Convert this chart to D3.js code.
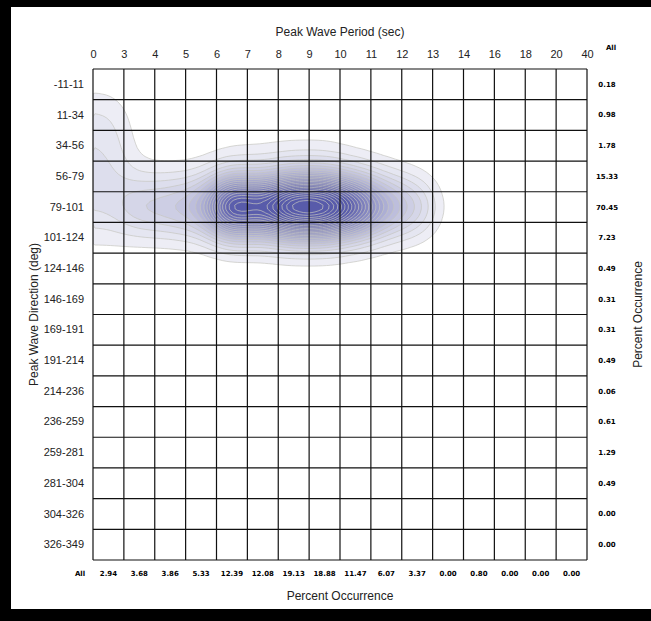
<!DOCTYPE html>
<html>
<head>
<meta charset="utf-8">
<script src="https://cdn.jsdelivr.net/npm/d3@7"></script>
<style>
  body { margin: 0; background: #fff; }
  svg { display: block; }
</style>
</head>
<body>
<div id="chart"></div>
<script>
// tick labels (column edges) and row bins
const periodTicks = ["0","3","4","5","6","7","8","9","10","11","12","13","14","16","18","20","40"];
const directionBins = ["-11-11","11-34","34-56","56-79","79-101","101-124","124-146","146-169",
  "169-191","191-214","214-236","236-259","259-281","281-304","304-326","326-349"];

// marginal totals (percent occurrence)
const periodTotals = [2.94, 3.68, 3.86, 5.33, 12.39, 12.08, 19.13, 18.88, 11.47, 6.07, 3.37, 0.00, 0.80, 0.00, 0.00, 0.00];
const directionTotals = [0.18, 0.98, 1.78, 15.33, 70.45, 7.23, 0.49, 0.31, 0.31, 0.49, 0.06, 0.61, 1.29, 0.49, 0.00, 0.00];

// joint occurrence per cell, estimated from the shading (rows below 101-124 too faint to show)
const occ_m11_11  = [0.10, 0.02, 0.01, 0.01, 0.01, 0.01, 0, 0, 0, 0, 0, 0, 0, 0, 0, 0];
const occ_11_34   = [0.80, 0.10, 0.05, 0.05, 0.05, 0.05, 0.05, 0.05, 0.04, 0.02, 0, 0, 0, 0, 0, 0];
const occ_34_56   = [1.00, 0.15, 0.10, 0.10, 0.15, 0.20, 0.20, 0.20, 0.10, 0.05, 0, 0, 0, 0, 0, 0];
const occ_56_79   = [1.20, 0.50, 0.40, 0.50, 1.30, 1.30, 1.90, 1.90, 1.20, 0.60, 0.30, 0, 0.10, 0, 0, 0];
const occ_79_101  = [1.20, 2.40, 2.80, 3.80, 11.00, 9.50, 13.60, 13.40, 9.00, 4.40, 2.40, 0, 0.50, 0, 0, 0];
const occ_101_124 = [0.40, 0.30, 0.30, 0.40, 1.00, 1.00, 1.40, 1.40, 0.90, 0.40, 0.20, 0, 0.10, 0, 0, 0];
const jointRows = [occ_m11_11, occ_11_34, occ_34_56, occ_56_79, occ_79_101, occ_101_124];

const W = 651, H = 621;
const grid = {left: 93, right: 587, top: 69, bottom: 560};
const nCols = periodTotals.length, nRows = directionBins.length;

const svg = d3.select("#chart").append("svg")
  .attr("width", W).attr("height", H);

// black frame
svg.append("rect").attr("width", W).attr("height", H).attr("fill", "#000");
svg.append("rect").attr("x", 11).attr("y", 7).attr("width", W - 11).attr("height", 602).attr("fill", "#fff");

const xEdge = d3.scaleLinear().domain([0, nCols]).range([grid.left, grid.right]);
const yEdge = d3.scaleLinear().domain([0, nRows]).range([grid.top, grid.bottom]);
const xBand = d3.scaleBand().domain(d3.range(nCols)).range([grid.left, grid.right]);
const yBand = d3.scaleBand().domain(directionBins).range([grid.top, grid.bottom]);

// ---- density contours ----
const k = 8;
const nx = nCols * k, ny = nRows * k;
const values = new Float64Array(nx * ny);
for (let j = 0; j < ny; j++) {
  const row = jointRows[Math.floor(j / k)];
  if (!row) continue;
  for (let i = 0; i < nx; i++) values[j * nx + i] = row[Math.floor(i / k)];
}
d3.blur2({data: values, width: nx}, 3, 4);
const vmax = d3.max(values);
const thresholds = d3.range(0.35, vmax, (vmax - 0.35) / 26);
const contours = d3.contours().size([nx, ny]).thresholds(thresholds)(values);

const fx = d3.scaleLinear().domain([0, nx]).range([grid.left, grid.right]);
const fy = d3.scaleLinear().domain([0, ny]).range([grid.top, grid.bottom]);
const path = d3.geoPath(d3.geoTransform({
  point(x, y) { this.stream.point(fx(x), fy(y)); }
}));
const color = d3.scaleLinear().domain([0, vmax * 0.72]).range(["#f6f6f9", "#585baa"]).clamp(true);

svg.append("clipPath").attr("id", "gridClip")
  .append("rect").attr("x", grid.left).attr("y", grid.top)
  .attr("width", grid.right - grid.left).attr("height", grid.bottom - grid.top);

svg.append("g").attr("clip-path", "url(#gridClip)")
  .selectAll("path")
  .data(contours)
  .join("path")
    .attr("d", path)
    .attr("fill", d => color(d.value))
    .attr("stroke", "#c6c6c0")
    .attr("stroke-width", 0.7);

// ---- grid lines ----
const gl = svg.append("g").attr("stroke", "#111").attr("stroke-width", 1.2);
gl.selectAll(".v").data(d3.range(nCols + 1)).join("line")
  .attr("x1", d => xEdge(d)).attr("x2", d => xEdge(d))
  .attr("y1", grid.top).attr("y2", grid.bottom);
gl.selectAll(".h").data(d3.range(nRows + 1)).join("line")
  .attr("y1", d => yEdge(d)).attr("y2", d => yEdge(d))
  .attr("x1", grid.left).attr("x2", grid.right);

// ---- axes ----
const labelFont = "'Liberation Sans', Arial, sans-serif";
const smallFont = "'DejaVu Sans', sans-serif";

const topAxis = svg.append("g")
  .attr("transform", `translate(0, ${grid.top - 15})`)
  .call(d3.axisTop(xEdge).tickValues(d3.range(nCols + 1)).tickFormat(i => periodTicks[i]).tickSize(0));
topAxis.select(".domain").remove();
topAxis.selectAll("text").attr("font-family", labelFont).attr("font-size", 11).attr("fill", "#222").attr("dy", "0.35em").attr("y", 0);

const leftAxis = svg.append("g")
  .attr("transform", `translate(${grid.left - 9}, 0)`)
  .call(d3.axisLeft(yBand).tickSize(0));
leftAxis.select(".domain").remove();
leftAxis.selectAll("text").attr("font-family", labelFont).attr("font-size", 11).attr("fill", "#222").attr("x", 0);

// totals along right
svg.append("g").selectAll("text")
  .data(directionTotals)
  .join("text")
    .attr("x", 607)
    .attr("y", (d, i) => yBand(directionBins[i]) + yBand.bandwidth() / 2)
    .attr("dy", "0.35em")
    .attr("text-anchor", "middle")
    .attr("font-family", smallFont).attr("font-size", 7).attr("font-weight", "bold")
    .text(d => d.toFixed(2));

// totals along bottom
const bottomY = 574;
svg.append("g").selectAll("text")
  .data(periodTotals)
  .join("text")
    .attr("x", (d, i) => xBand(i) + xBand.bandwidth() / 2)
    .attr("y", bottomY)
    .attr("dy", "0.35em")
    .attr("text-anchor", "middle")
    .attr("font-family", smallFont).attr("font-size", 7).attr("font-weight", "bold")
    .text(d => d.toFixed(2));

svg.append("text").attr("x", 80).attr("y", bottomY).attr("dy", "0.35em")
  .attr("text-anchor", "middle").attr("font-family", smallFont).attr("font-size", 7).attr("font-weight", "bold")
  .text("All");
svg.append("text").attr("x", 611).attr("y", 48).attr("dy", "0.35em")
  .attr("text-anchor", "middle").attr("font-family", smallFont).attr("font-size", 7).attr("font-weight", "bold")
  .text("All");

// titles
const midX = (grid.left + grid.right) / 2, midY = (grid.top + grid.bottom) / 2;
svg.append("text").attr("x", midX).attr("y", 32).attr("dy", "0.35em")
  .attr("text-anchor", "middle").attr("font-family", labelFont).attr("font-size", 12).attr("fill", "#222")
  .text("Peak Wave Period (sec)");
svg.append("text").attr("x", midX).attr("y", 596).attr("dy", "0.35em")
  .attr("text-anchor", "middle").attr("font-family", labelFont).attr("font-size", 12).attr("fill", "#222")
  .text("Percent Occurrence");
svg.append("text").attr("transform", `translate(34, ${midY}) rotate(-90)`).attr("dy", "0.35em")
  .attr("text-anchor", "middle").attr("font-family", labelFont).attr("font-size", 12).attr("fill", "#222")
  .text("Peak Wave Direction (deg)");
svg.append("text").attr("transform", `translate(638, ${midY}) rotate(-90)`).attr("dy", "0.35em")
  .attr("text-anchor", "middle").attr("font-family", labelFont).attr("font-size", 12).attr("fill", "#222")
  .text("Percent Occurrence");
</script>
</body>
</html>
